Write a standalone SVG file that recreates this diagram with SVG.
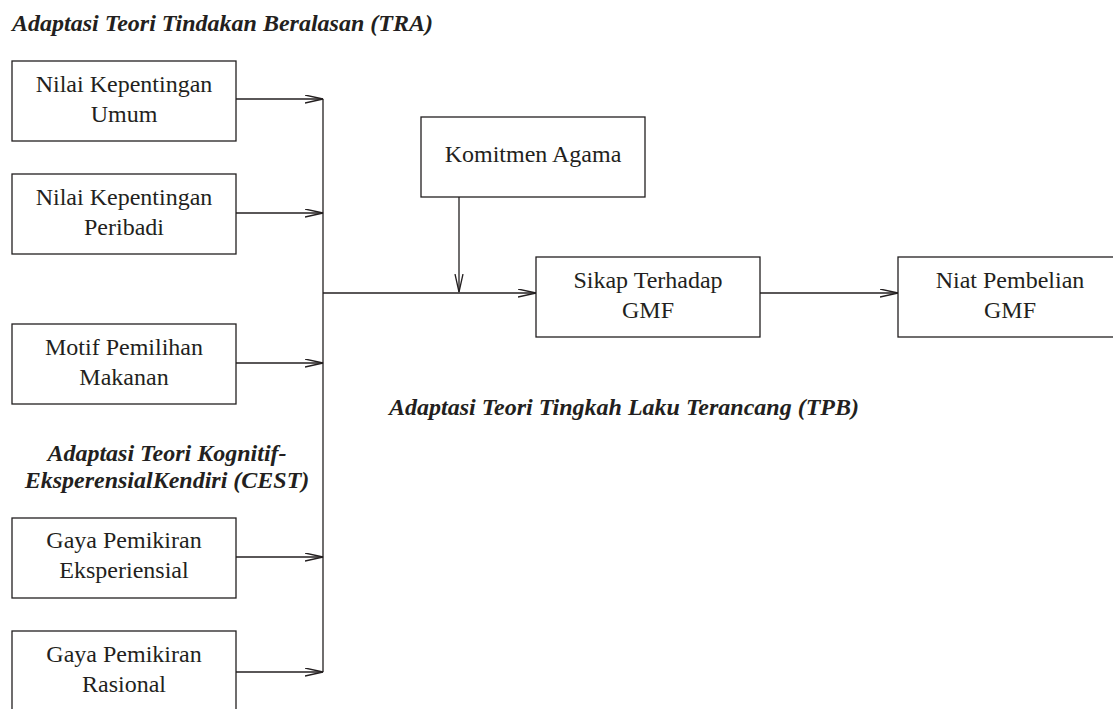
<svg xmlns="http://www.w3.org/2000/svg" width="1113" height="709" viewBox="0 0 1113 709">
<defs>
<style>
.box{fill:#fff;stroke:#231f20;stroke-width:1.3}
.t{font-family:'Liberation Serif','Times New Roman',Times,serif;font-size:24px;fill:#231f20;text-anchor:middle}
.h{font-family:'Liberation Serif','Times New Roman',Times,serif;font-size:24px;font-weight:bold;font-style:italic;fill:#231f20}
.ln{stroke:#231f20;stroke-width:1.3;fill:none}
</style>
<marker id="arr" markerUnits="userSpaceOnUse" markerWidth="20" markerHeight="10" refX="18" refY="4.5" orient="auto">
<path d="M0,0.5 L18,4.5 L0,8.5" fill="none" stroke="#231f20" stroke-width="1.3"/>
</marker>
</defs>
<rect width="1113" height="709" fill="#fff"/>
<text class="h" x="12" y="31">Adaptasi Teori Tindakan Beralasan (TRA)</text>
<text class="h" x="167" y="461" text-anchor="middle">Adaptasi Teori Kognitif-</text>
<text class="h" x="167" y="488" text-anchor="middle">EksperensialKendiri (CEST)</text>
<text class="h" x="624" y="415" text-anchor="middle">Adaptasi Teori Tingkah Laku Terancang (TPB)</text>
<g id="connectors">
<line class="ln" x1="323" y1="99" x2="323" y2="672"/>
<line class="ln" x1="236" y1="99" x2="323" y2="99" marker-end="url(#arr)"/>
<line class="ln" x1="236" y1="213" x2="323" y2="213" marker-end="url(#arr)"/>
<line class="ln" x1="236" y1="363" x2="323" y2="363" marker-end="url(#arr)"/>
<line class="ln" x1="236" y1="557" x2="323" y2="557" marker-end="url(#arr)"/>
<line class="ln" x1="236" y1="672" x2="323" y2="672" marker-end="url(#arr)"/>
<line class="ln" x1="323" y1="293" x2="536" y2="293" marker-end="url(#arr)"/>
<line class="ln" x1="459" y1="197" x2="459" y2="292" marker-end="url(#arr)"/>
<line class="ln" x1="760" y1="293" x2="898" y2="293" marker-end="url(#arr)"/>
</g>
<g id="n1"><rect class="box" x="12" y="61" width="224" height="80"/><text class="t" x="124" y="92">Nilai Kepentingan</text><text class="t" x="124" y="122">Umum</text></g>
<g id="n2"><rect class="box" x="12" y="174" width="224" height="80"/><text class="t" x="124" y="205">Nilai Kepentingan</text><text class="t" x="124" y="235">Peribadi</text></g>
<g id="n3"><rect class="box" x="12" y="324" width="224" height="80"/><text class="t" x="124" y="355">Motif Pemilihan</text><text class="t" x="124" y="385">Makanan</text></g>
<g id="n4"><rect class="box" x="12" y="518" width="224" height="80"/><text class="t" x="124" y="548">Gaya Pemikiran</text><text class="t" x="124" y="578">Eksperiensial</text></g>
<g id="n5"><rect class="box" x="12" y="631" width="224" height="80"/><text class="t" x="124" y="662">Gaya Pemikiran</text><text class="t" x="124" y="692">Rasional</text></g>
<g id="n6"><rect class="box" x="421" y="117" width="224" height="80"/><text class="t" x="533" y="162">Komitmen Agama</text></g>
<g id="n7"><rect class="box" x="536" y="257" width="224" height="80"/><text class="t" x="648" y="288">Sikap Terhadap</text><text class="t" x="648" y="318">GMF</text></g>
<g id="n8"><rect class="box" x="898" y="257" width="224" height="80"/><text class="t" x="1010" y="288">Niat Pembelian</text><text class="t" x="1010" y="318">GMF</text></g>
</svg>
